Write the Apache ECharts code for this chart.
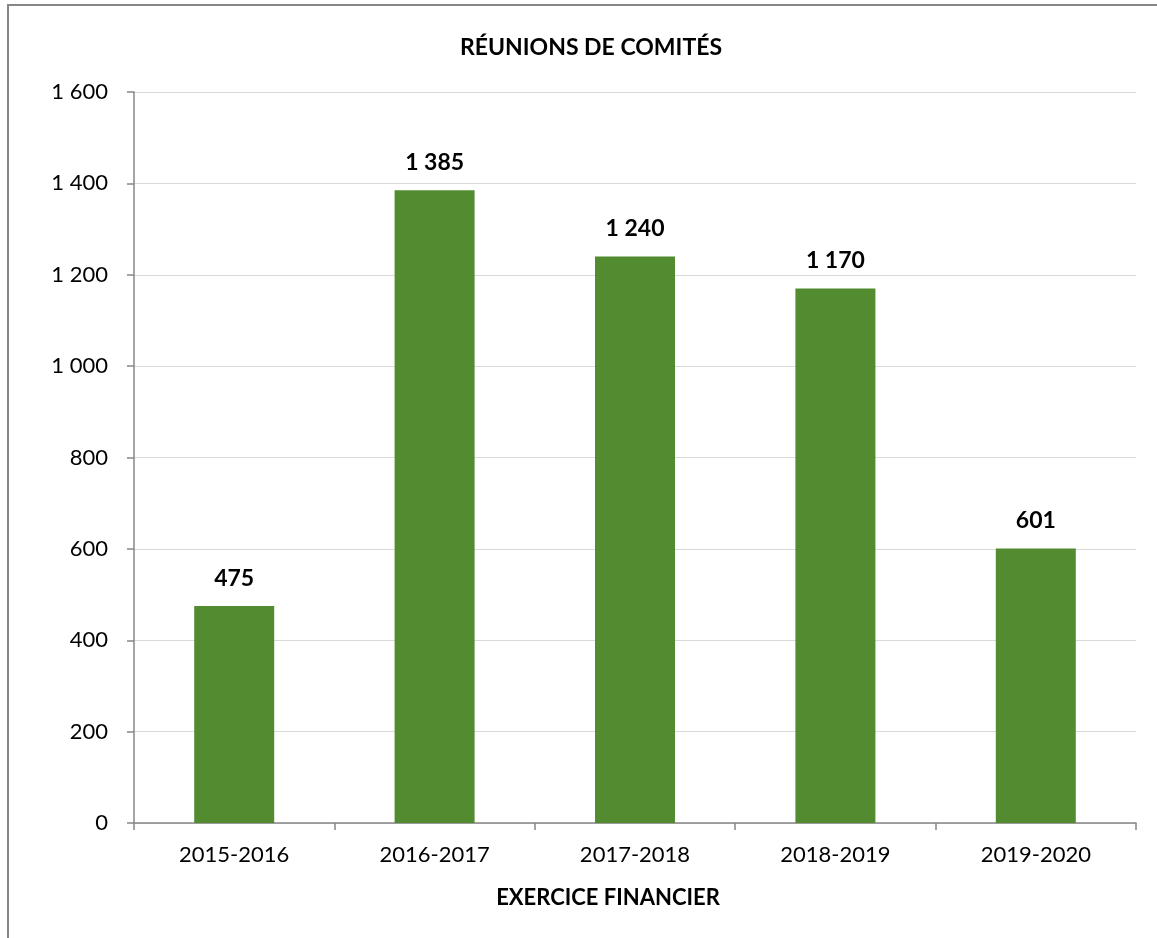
<!DOCTYPE html>
<html><head><meta charset="utf-8">
<script src="https://cdn.jsdelivr.net/npm/echarts@6/dist/echarts.min.js"></script>
<style>html,body{margin:0;padding:0;background:#fff}#c{width:1157px;height:938px}</style>
</head><body><div id="c"></div>
<script>
const categories = ['2015-2016','2016-2017','2017-2018','2018-2019','2019-2020'];
const meetings = [475, 1385, 1240, 1170, 601];
const yTicks = [0, 200, 400, 600, 800, 1000, 1200, 1400, 1600];

const fmt = v => String(v).replace(/\B(?=(\d{3})+(?!\d))/g, ' ');
const FONT = 'Lato, "Noto Sans", sans-serif';

const chart = echarts.init(document.getElementById('c'), null, {renderer:'canvas'});
chart.setOption({
  animation: false,
  backgroundColor: '#fff',
  title: {
    text: 'RÉUNIONS DE COMITÉS', left: 586, top: 31, textAlign: 'center',
    textStyle: {fontFamily: FONT, fontWeight: 'bold', fontSize: 23, color: '#000'}
  },
  graphic: [{
    type: 'rect', shape: {x: 8, y: 5, width: 1300, height: 1100},
    style: {fill: 'none', stroke: '#878787', lineWidth: 2}, silent: true
  }],
  grid: {left: 134, right: 21, top: 92, bottom: 115},
  xAxis: {
    type: 'category', data: categories,
    axisLine: {lineStyle: {color: '#878787', width: 1.5}},
    axisTick: {show: true, length: 7, lineStyle: {color: '#878787', width: 1.5}},
    axisLabel: {margin: 21, fontFamily: FONT, fontSize: 22, color: '#000'},
    name: 'EXERCICE FINANCIER', nameLocation: 'middle', nameGap: 64,
    nameTextStyle: {fontFamily: FONT, fontWeight: 'bold', fontSize: 22, color: '#000', padding: [0, 54, 0, 0]}
  },
  yAxis: {
    type: 'value', min: yTicks[0], max: yTicks[yTicks.length-1], interval: yTicks[1]-yTicks[0],
    axisLine: {show: true, lineStyle: {color: '#878787', width: 1.5}},
    axisTick: {show: true, inside: false, length: 7, lineStyle: {color: '#878787', width: 1.5}},
    splitLine: {lineStyle: {color: '#d9d9d9', width: 1.2}},
    axisLabel: {margin: 26, fontFamily: FONT, fontSize: 22, color: '#000', formatter: v => fmt(v)}
  },
  series: [{
    type: 'bar', data: meetings, barWidth: 80,
    itemStyle: {color: '#538b31'},
    label: {show: true, position: 'top', distance: 16, fontFamily: FONT, fontWeight: 'bold', fontSize: 23, color: '#000', formatter: p => fmt(p.value)}
  }]
});
</script></body></html>
